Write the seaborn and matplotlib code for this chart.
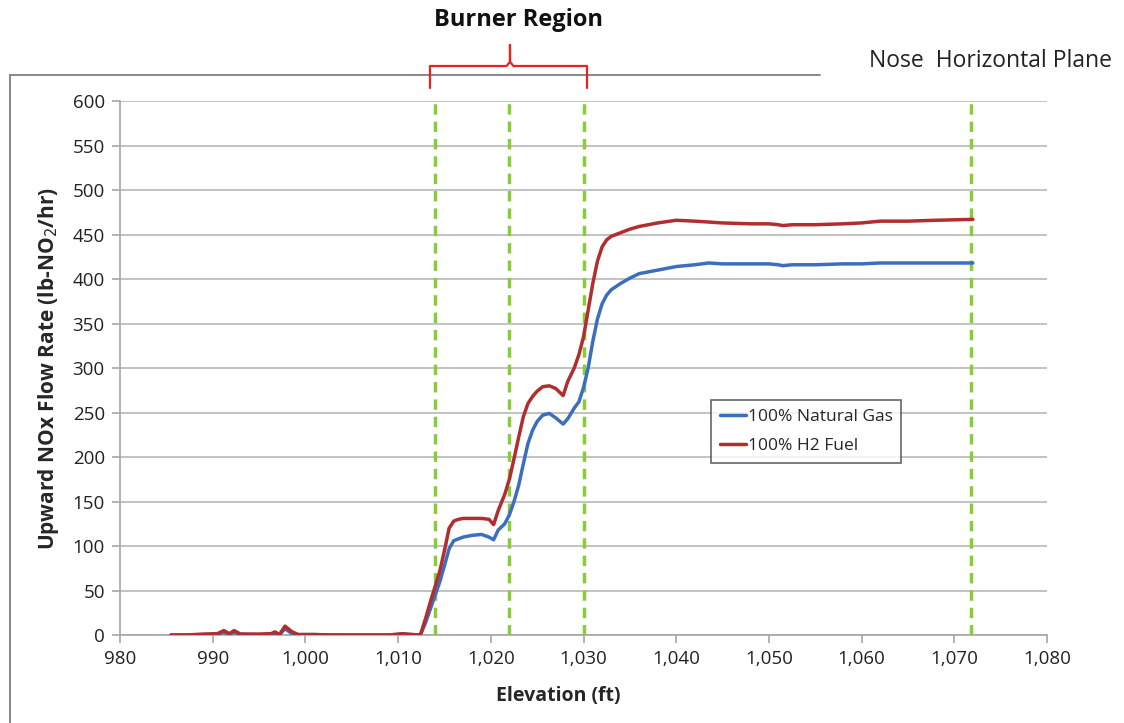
import matplotlib
matplotlib.use("Agg")
import matplotlib.pyplot as plt
import matplotlib.ticker as mticker
import seaborn as sns
import pandas as pd
from matplotlib.lines import Line2D

elevation = [985.5, 987, 989, 990.5, 991.2, 991.8, 992.3, 993, 995, 996.3, 996.7, 997.2, 997.8, 998.5,
             999.2, 1001, 1003, 1005, 1007, 1009, 1010.5, 1011.5, 1012.4, 1013, 1013.5, 1014, 1014.5,
             1015, 1015.5, 1016, 1016.5, 1017, 1018, 1019, 1019.8, 1020.3, 1020.8, 1021.5, 1022, 1022.5,
             1023, 1023.5, 1024, 1024.5, 1025, 1025.6, 1026.3, 1027, 1027.8, 1028.3, 1029, 1029.5, 1030,
             1030.5, 1031, 1031.5, 1032, 1032.5, 1033, 1034, 1035, 1036, 1038, 1040, 1042, 1043.5, 1045,
             1048, 1050, 1051, 1051.5, 1052.5, 1055, 1058, 1060, 1062, 1065, 1068, 1072]

natural_gas = [0, 0, 0.5, 1, 3, 1, 3, 1, 0.5, 1, 2, 0.5, 7, 2,
               0.5, 0.5, 0, 0, 0, 0, 1, 0.5, 0, 15, 30, 45, 60,
               78, 97, 106, 108, 110, 112, 113, 110, 107, 118, 125, 135, 150,
               168, 192, 215, 230, 240, 247, 249, 244, 237, 243, 255, 262, 278,
               300, 330, 355, 372, 382, 388, 395, 401, 406, 410, 414, 416, 418, 417,
               417, 417, 416, 415, 416, 416, 417, 417, 418, 418, 418, 418]

h2_fuel = [0, 0, 1, 1.5, 5, 1.5, 5, 1, 1, 1.5, 3.5, 0.5, 10, 4,
           0.5, 0.5, 0, 0, 0, 0, 1.5, 0.5, 0, 20, 38, 55, 72,
           95, 120, 128, 130, 131, 131, 131, 130, 124, 140, 158, 175, 198,
           222, 245, 260, 268, 274, 279, 280, 277, 269, 285, 300, 315, 335,
           365, 395, 420, 436, 444, 448, 452, 456, 459, 463, 466, 465, 464, 463,
           462, 462, 461, 460, 461, 461, 462, 463, 465, 465, 466, 467]

series_names = ["100% Natural Gas", "100% H2 Fuel"]
marker_lines = [1014, 1022, 1030, 1071.8]
x_ticks = list(range(980, 1081, 10))
y_ticks = list(range(0, 601, 50))

df = pd.concat([
    pd.DataFrame({"Elevation": elevation, "NOx": natural_gas, "Fuel": series_names[0]}),
    pd.DataFrame({"Elevation": elevation, "NOx": h2_fuel, "Fuel": series_names[1]}),
])

sns.set_theme(style="white")
plt.rcParams["font.family"] = ["Open Sans", "DejaVu Sans"]

fig = plt.figure(figsize=(11.24, 7.23), dpi=100)
ax = fig.add_axes([0.1068, 0.1217, 0.8247, 0.7386])

palette = {series_names[0]: "#3B6FBE", series_names[1]: "#B02E2E"}
sns.lineplot(data=df, x="Elevation", y="NOx", hue="Fuel", palette=palette,
             linewidth=2.5, ax=ax, legend=False, sort=False, zorder=3)

for xv in marker_lines:
    ax.axvline(xv, color="#8ACB3A", linestyle=(0, (3, 2)), linewidth=2.5, zorder=2)

ax.set_xlim(980, 1080)
ax.set_ylim(0, 600)
ax.set_xticks(x_ticks)
ax.set_yticks(y_ticks)
ax.xaxis.set_major_formatter(mticker.FuncFormatter(lambda v, p: f"{int(v):,}"))
ax.yaxis.grid(True, color="#BDBDBD", linewidth=1.3)
ax.xaxis.grid(False)
for s in ["top", "right"]:
    ax.spines[s].set_visible(False)
for s in ["left", "bottom"]:
    ax.spines[s].set_color("#A6A6A6")
    ax.spines[s].set_linewidth(1.2)
ax.tick_params(axis="both", which="major", length=6, width=1.2, color="#A6A6A6",
               labelsize=13.5, direction="out", bottom=True, left=True, pad=5)
ax.tick_params(axis="both", labelcolor="#222222")

ax.set_xlabel("Elevation (ft)", fontsize=14, fontweight="bold", labelpad=5)
ax.xaxis.set_label_coords(0.473, -0.095)
ax.set_ylabel("Upward NOx Flow Rate (lb-NO$_2$/hr)", fontsize=15, fontweight="bold", labelpad=8)

handles = [Line2D([0], [0], color=palette[n], linewidth=2.5) for n in series_names]
leg = ax.legend(handles, series_names, loc="upper left", bbox_to_anchor=(0.638, 0.44),
                fontsize=12.5, frameon=True, fancybox=False, handlelength=1.5, handletextpad=0.1,
                borderpad=0.5, labelspacing=0.75, borderaxespad=0)
leg.get_frame().set_edgecolor("#404040")
leg.get_frame().set_linewidth(1.2)

# Outer frame lines (left and top)
fig.add_artist(Line2D([10/1124, 10/1124], [0, 1 - 75/723], color="#7F7F7F", linewidth=1.3))
fig.add_artist(Line2D([10/1124, 820/1124], [1 - 75/723, 1 - 75/723], color="#7F7F7F", linewidth=1.3))

# Burner region bracket
bx0, bx1, bxm = 430/1124, 587/1124, 510/1124
ytop, ybot, ytip = 1 - 66/723, 1 - 88/723, 1 - 45/723
red = "#E8231F"
fig.add_artist(Line2D([bx0, bx0, bxm - 0.003, bxm, bxm, bxm, bxm + 0.003, bx1, bx1],
                      [ybot, ytop, ytop, ytop + 0.006, ytip, ytop + 0.006, ytop, ytop, ybot],
                      color=red, linewidth=1.6))
fig.text(518/1124, 1 - 20/723, "Burner Region", ha="center", va="center",
         fontsize=17, fontweight="bold", color="#111111", fontstretch="condensed")
fig.text(1112/1124, 1 - 61/723, "Nose  Horizontal Plane", ha="right", va="center",
         fontsize=16.5, color="#222222")

fig.savefig("out.png", dpi=100, facecolor="white")
